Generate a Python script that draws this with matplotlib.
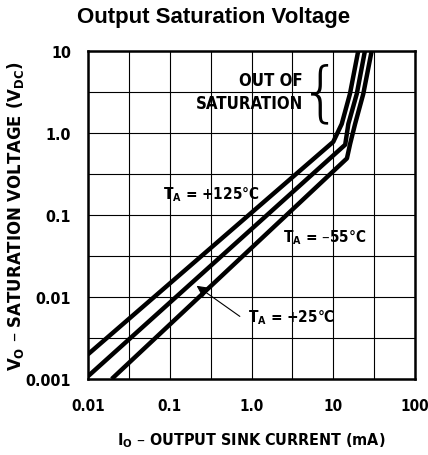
import numpy as np
import matplotlib
matplotlib.use("Agg")
import matplotlib.pyplot as plt
from matplotlib import font_manager
from matplotlib.ticker import FixedLocator, NullFormatter

# curves (I_O in mA, V_O in V)
i_125 = [0.01, 10.0, 12.7, 16.0, 20.2]
v_125 = [0.002, 0.78, 1.29, 3.0, 10.0]

i_25 = [0.01, 14.0, 15.3, 19.4, 24.4]
v_25 = [0.00108, 0.72, 1.29, 3.0, 10.0]

i_m55 = [0.0195, 14.7, 16.1, 18.5, 23.3, 29.5]
v_m55 = [0.001, 0.49, 0.74, 1.29, 3.0, 10.0]

x_ticks = [0.01, 0.1, 1.0, 10, 100]
x_labels = ["0.01", "0.1", "1.0", "10", "100"]
y_ticks = [0.001, 0.01, 0.1, 1.0, 10]
y_labels = ["0.001", "0.01", "0.1", "1.0", "10"]

# narrow bold face for the labels if one is around
fonts = font_manager.fontManager.ttflist
has_cond = any(f.name == "DejaVu Sans" and f.stretch == "condensed" for f in fonts)
if any(f.name == "Liberation Sans Narrow" for f in fonts):
    cond = dict(family=["Liberation Sans Narrow"], fontweight="bold")
    fs = 12
elif has_cond:
    cond = dict(family=["DejaVu Sans"], fontweight="bold", fontstretch="condensed")
    fs = 11
else:
    cond = dict(family=["Liberation Sans"], fontweight="bold")
    fs = 10

fig = plt.figure(figsize=(4.28, 4.56), dpi=100)
ax = fig.add_axes([88 / 428, 1 - 380 / 456, 327 / 428, 328 / 456])

for xs, ys in [(i_125, v_125), (i_25, v_25), (i_m55, v_m55)]:
    ax.plot(xs, ys, color="black", lw=3.2, solid_joinstyle="round", solid_capstyle="butt")

ax.set_xscale("log")
ax.set_yscale("log")
ax.set_xlim(0.01, 100)
ax.set_ylim(0.001, 10)

ax.xaxis.set_major_locator(FixedLocator(x_ticks))
ax.yaxis.set_major_locator(FixedLocator(y_ticks))
ax.xaxis.set_minor_locator(FixedLocator([t * np.sqrt(10) for t in x_ticks[:-1]]))
ax.yaxis.set_minor_locator(FixedLocator([t * np.sqrt(10) for t in y_ticks[:-1]]))
ax.xaxis.set_minor_formatter(NullFormatter())
ax.yaxis.set_minor_formatter(NullFormatter())
ax.set_xticklabels(x_labels, fontsize=fs, **cond)
ax.set_yticklabels(y_labels, fontsize=fs * 1.05, **cond)
ax.tick_params(axis="x", which="both", length=0, pad=14)
ax.tick_params(axis="y", which="both", length=0, pad=12)
ax.grid(True, which="both", color="black", lw=0.8)
for s in ax.spines.values():
    s.set_linewidth(1.8)

ax.set_xlabel(r"I$_\mathregular{O}$ – OUTPUT SINK CURRENT (mA)", fontsize=fs * 1.05,
              labelpad=12, **cond)
ax.set_ylabel(r"V$_\mathregular{O}$ – SATURATION VOLTAGE (V$_\mathregular{DC}$)", fontsize=fs * 1.2,
              labelpad=0, **cond)

fig.text(0.5, 1 - 18 / 456, "Output Saturation Voltage", ha="center", va="center",
         fontsize=16, fontweight="bold", family=["Liberation Sans", "DejaVu Sans"])

ax.text(4.27, 3.2, "OUT OF\nSATURATION", ha="right", va="center", multialignment="right",
        fontsize=fs * 1.1, linespacing=1.3, **cond)
ax.text(7.1, 3.0, "{", ha="center", va="center", fontsize=47, fontweight="light",
        family=["DejaVu Sans"])

ax.text(0.0826, 0.18, r"T$_\mathregular{A}$ = +125°C", ha="left", va="center", fontsize=fs, **cond)
ax.text(2.43, 0.054, r"T$_\mathregular{A}$ = –55°C", ha="left", va="center", fontsize=fs, **cond)
ax.text(0.906, 0.0057, r"T$_\mathregular{A}$ = +25°C", ha="left", va="center", fontsize=fs, **cond)
ax.annotate("", xy=(0.213, 0.0137), xytext=(0.72, 0.0058),
            arrowprops=dict(arrowstyle="-|>", color="black", lw=0.8,
                            mutation_scale=18, shrinkA=0, shrinkB=0))

fig.savefig("out.png", dpi=100)
